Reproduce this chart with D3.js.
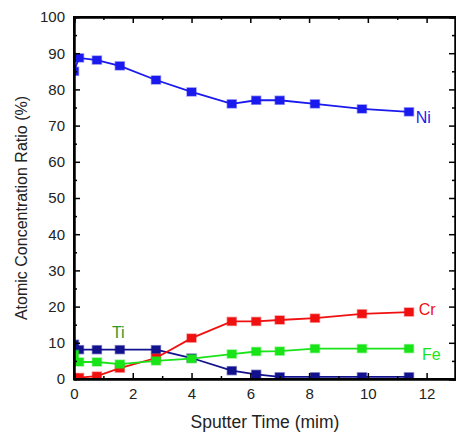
<!DOCTYPE html>
<html>
<head>
<meta charset="utf-8">
<script src="https://cdn.jsdelivr.net/npm/d3@7"></script>
<style>
  body { margin: 0; background: #fff; }
  text { font-family: "Liberation Sans", Arial, sans-serif; }
</style>
</head>
<body>
<div id="chart"></div>
<script>
// sputter time (min) for every measured point
const times = [0, 0.17, 0.78, 1.56, 2.79, 4.0, 5.37, 6.2, 7.0, 8.2, 9.8, 11.4];
const ni = [85, 88.7, 88.1, 86.5, 82.6, 79.3, 76.0, 77.0, 77.0, 76.0, 74.6, 73.8];
const ti = [9.6, 8.1, 8.1, 8.1, 8.1, 5.8, 2.3, 1.3, 0.6, 0.6, 0.6, 0.6];
const cr = [0.3, 0.4, 0.8, 3.0, 5.8, 11.3, 15.9, 15.9, 16.3, 16.8, 18.0, 18.5];
const fe = [6.8, 4.7, 4.7, 4.1, 5.0, 5.6, 6.9, 7.6, 7.7, 8.4, 8.4, 8.4];
const xTicks = [0, 2, 4, 6, 8, 10, 12];
const yTicks = [0, 10, 20, 30, 40, 50, 60, 70, 80, 90, 100];

const series = [
    { name: "Ni", values: ni, color: "#1a1aee", label: "Ni", lx: 11.63, ly: 72.4, lcolor: "#1a1aee" },
    { name: "Ti", values: ti, color: "#12128f", label: "Ti", lx: 1.29, ly: 12.8, lcolor: "#2a9a2a" },
    { name: "Cr", values: cr, color: "#f01010", label: "Cr", lx: 11.73, ly: 19.1, lcolor: "#f01010" },
    { name: "Fe", values: fe, color: "#18e418", label: "Fe", lx: 11.84, ly: 6.9, lcolor: "#18e418" }
];

const W = 456, H = 437;
const m = { left: 74, right: 0, top: 17, bottom: 58 };

const svg = d3.select("#chart").append("svg").attr("width", W).attr("height", H);

const x = d3.scaleLinear().domain([0, 13]).range([m.left, W - m.right]);
const y = d3.scaleLinear().domain([0, 100]).range([H - m.bottom, m.top]);

svg.append("clipPath").attr("id", "plot")
    .append("rect").attr("x", m.left).attr("y", m.top)
    .attr("width", x(13) - m.left).attr("height", y(0) - m.top);

// frame + inward ticks
function drawAxes() {
    const minorX = d3.range(1, 13, 2);
    const minorY = d3.range(5, 100, 10);
    const axB = svg.append("g").attr("transform", `translate(0,${y(0)})`)
        .call(d3.axisBottom(x).tickValues(xTicks).tickSizeInner(-6).tickSizeOuter(0).tickPadding(9).tickFormat(d3.format("d")));
    svg.append("g").attr("transform", `translate(0,${y(0)})`)
        .call(d3.axisBottom(x).tickValues(minorX).tickSize(-3).tickFormat(""));
    svg.append("g").attr("transform", `translate(0,${y(100)})`)
        .call(d3.axisTop(x).tickValues(xTicks).tickSize(-6).tickFormat(""));
    svg.append("g").attr("transform", `translate(0,${y(100)})`)
        .call(d3.axisTop(x).tickValues(minorX).tickSize(-3).tickFormat(""));
    const axL = svg.append("g").attr("transform", `translate(${x(0)},0)`)
        .call(d3.axisLeft(y).tickValues(yTicks).tickSizeInner(-6).tickSizeOuter(0).tickPadding(9));
    svg.append("g").attr("transform", `translate(${x(0)},0)`)
        .call(d3.axisLeft(y).tickValues(minorY).tickSize(-3).tickFormat(""));
    svg.append("g").attr("transform", `translate(${x(13) - 1},0)`)
        .call(d3.axisRight(y).tickValues(yTicks).tickSize(-6).tickFormat(""));
    svg.append("g").attr("transform", `translate(${x(13) - 1},0)`)
        .call(d3.axisRight(y).tickValues(minorY).tickSize(-3).tickFormat(""));
    svg.selectAll(".domain").attr("stroke", "#000").attr("stroke-width", 2);
    svg.selectAll(".tick line").attr("stroke", "#000").attr("stroke-width", 1.5);
    axB.selectAll("text").attr("font-size", 15).attr("fill", "#222");
    axL.selectAll("text").attr("font-size", 15).attr("fill", "#222");
    // full frame round the plot area
    svg.append("rect").attr("x", x(0)).attr("y", y(100))
        .attr("width", x(13) - x(0)).attr("height", y(0) - y(100))
        .attr("fill", "none").attr("stroke", "#000").attr("stroke-width", 2);
}

function drawSeries() {
    const g = svg.append("g").attr("clip-path", "url(#plot)");
    const line = d3.line().x(d => x(d[0])).y(d => y(d[1]));
    series.forEach(s => {
        const pts = times.map((t, i) => [t, s.values[i]]);
        g.append("path").datum(pts)
            .attr("fill", "none").attr("stroke", s.color)
            .attr("stroke-width", 1.8).attr("d", line);
        g.selectAll(null).data(pts).enter().append("rect")
            .attr("x", d => x(d[0]) - 4.5).attr("y", d => y(d[1]) - 4)
            .attr("width", 9).attr("height", 8)
            .attr("fill", s.color)
            .attr("stroke", s.color).attr("stroke-opacity", 0.45).attr("stroke-width", 1.5);
    });
}

function drawLabels() {
    series.forEach(s => {
        svg.append("text").attr("x", x(s.lx)).attr("y", y(s.ly)).attr("dy", "0.35em")
            .attr("font-size", 16).attr("fill", s.lcolor).text(s.label);
    });
    svg.append("text")
        .attr("x", (x(0) + x(13)) / 2).attr("y", 428)
        .attr("text-anchor", "middle").attr("font-size", 17.5).attr("fill", "#222")
        .text("Sputter Time (mim)");
    svg.append("text")
        .attr("transform", `translate(27,${(y(0) + y(100)) / 2 + 10}) rotate(-90)`)
        .attr("text-anchor", "middle").attr("font-size", 16).attr("fill", "#222")
        .text("Atomic Concentration Ratio (%)");
}

drawSeries();
drawAxes();
drawLabels();
</script>
</body>
</html>
